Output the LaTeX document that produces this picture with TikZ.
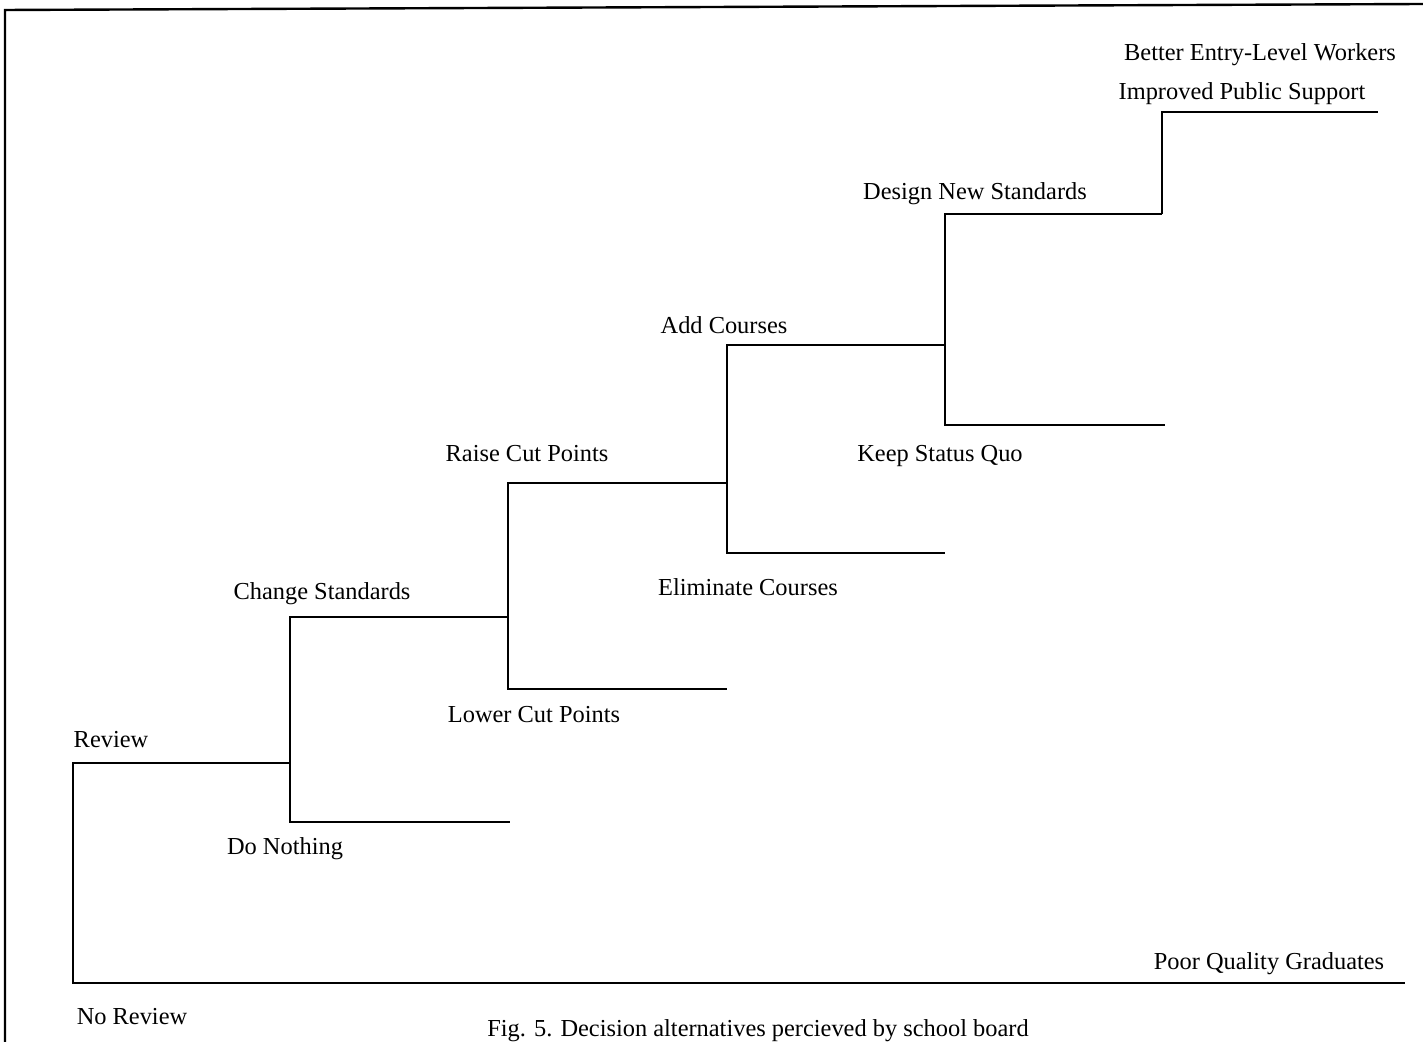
\documentclass[tikz,border=0pt]{standalone}
\usepackage{fontspec}
\setmainfont{Liberation Serif}
\begin{document}
\begin{tikzpicture}[x=0.5pt,y=-0.5pt,
  branch/.style={line width=1.1pt},
  frame/.style={line width=1.2pt},
  lbl/.style={inner sep=0pt,font=\fontsize{12.2}{14}\selectfont}]
\useasboundingbox (0,0) rectangle (1423,1042);
% frame
\coordinate (fTL) at (5,10);
\coordinate (fBL) at (5,1042);
\coordinate (fTR) at (1423,4);
\draw[frame] (fBL) -- (fTL) -- (fTR);
% junction coordinates
\coordinate (r0t) at (73,763);  \coordinate (r0b) at (73,983);
\coordinate (r0te) at (290,763); \coordinate (r0be) at (1405,983);
\coordinate (c1t) at (290,617); \coordinate (c1b) at (290,822);
\coordinate (c1te) at (508,617); \coordinate (c1be) at (510,822);
\coordinate (c2t) at (508,483); \coordinate (c2b) at (508,689);
\coordinate (c2te) at (727,483); \coordinate (c2be) at (727,689);
\coordinate (c3t) at (727,345); \coordinate (c3b) at (727,553);
\coordinate (c3te) at (945,345); \coordinate (c3be) at (945,553);
\coordinate (c4t) at (945,214); \coordinate (c4b) at (945,425);
\coordinate (c4te) at (1162,214); \coordinate (c4be) at (1165,425);
\coordinate (c5t) at (1162,112); \coordinate (c5te) at (1378,112);
% branches
\draw[branch] (r0te) -- (r0t) -- (r0b) -- (r0be);
\draw[branch] (c1te) -- (c1t) -- (c1b) -- (c1be);
\draw[branch] (c2te) -- (c2t) -- (c2b) -- (c2be);
\draw[branch] (c3te) -- (c3t) -- (c3b) -- (c3be);
\draw[branch] (c4te) -- (c4t) -- (c4b) -- (c4be);
\draw[branch] (c4te) -- (c5t) -- (c5te);
% labels
\node[lbl] (better) at (1260,55) {Better Entry-Level Workers};
\node[lbl] (improved) at (1242,94) {Improved Public Support};
\node[lbl] (design) at (975,194) {Design New Standards};
\node[lbl] (add) at (724,325) {Add Courses};
\node[lbl] (keep) at (940,456) {Keep Status Quo};
\node[lbl] (raise) at (527,454) {Raise Cut Points};
\node[lbl] (elim) at (748,587) {Eliminate Courses};
\node[lbl] (change) at (322,594) {Change Standards};
\node[lbl] (lower) at (534,715) {Lower Cut Points};
\node[lbl] (review) at (111,740) {Review};
\node[lbl] (nothing) at (285,849) {Do Nothing};
\node[lbl] (poor) at (1269,964) {Poor Quality Graduates};
\node[lbl] (noreview) at (132,1017) {No Review};
\node[lbl] (caption) at (758,1031) {Fig. 5. Decision alternatives percieved by school board};
\end{tikzpicture}
\end{document}
